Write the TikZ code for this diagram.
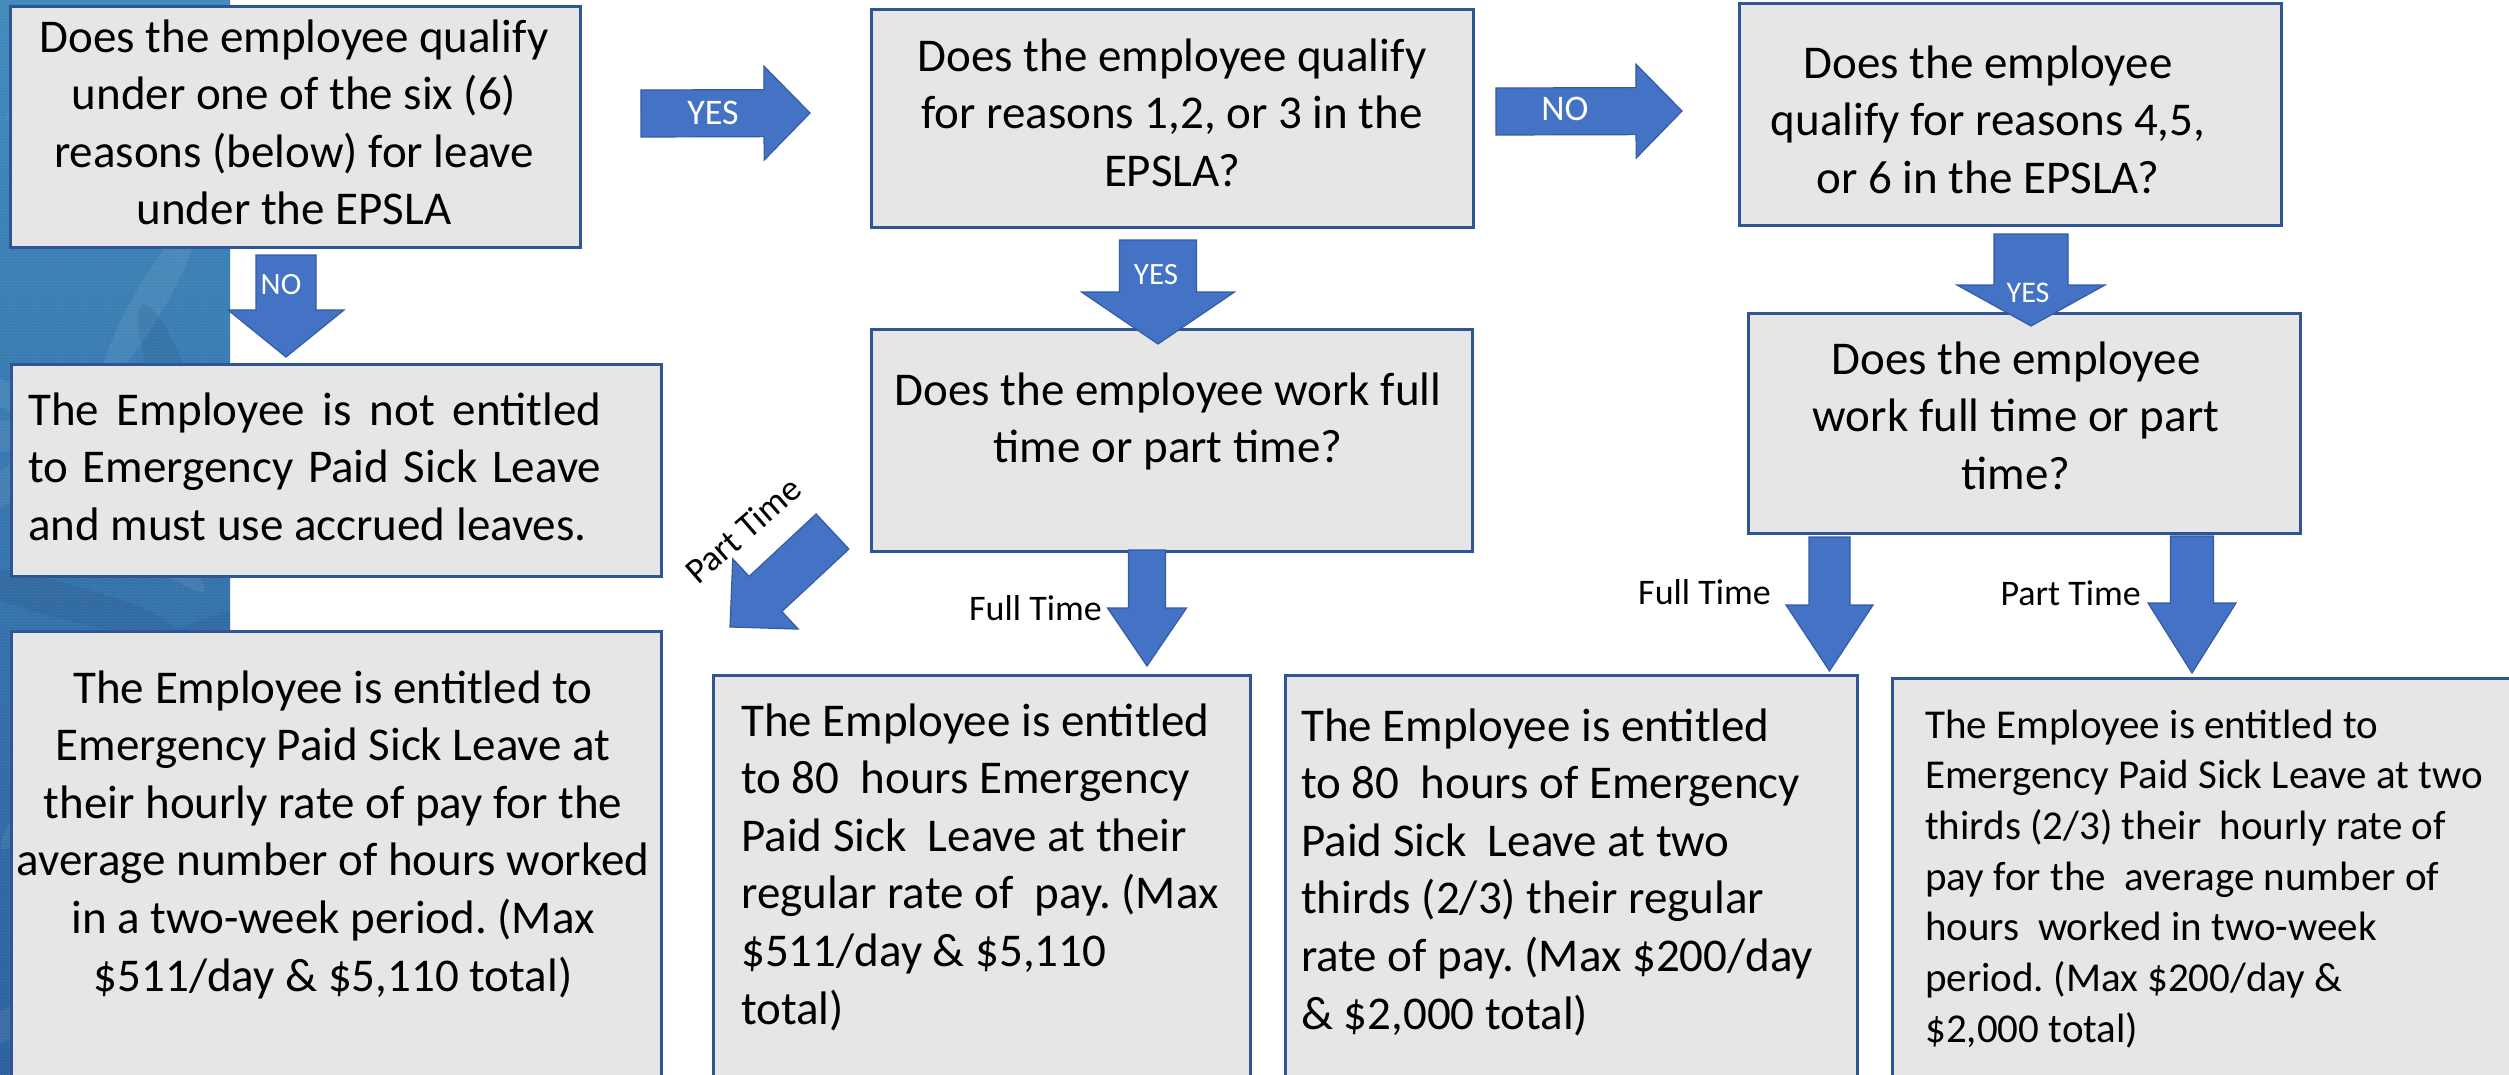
\documentclass[tikz,border=0pt]{standalone}
\usepackage{fontspec}
\setmainfont{Carlito}
\usetikzlibrary{calc,patterns}
\frenchspacing

\definecolor{boxfill}{RGB}{231,230,230}
\definecolor{boxline}{RGB}{47,85,151}
\definecolor{arrowfill}{RGB}{68,114,196}
\definecolor{arrowline}{RGB}{52,92,165}
\definecolor{texA}{RGB}{64,138,188}
\definecolor{texB}{RGB}{44,96,158}

\tikzset{
  card/.style={draw=boxline, line width=3pt, fill=boxfill, inner sep=0pt, anchor=north west},
  blk/.style={fill=arrowfill, draw=arrowline, line width=1.2pt, line join=miter},
  tag/.style={text=white, inner sep=0pt},
  side/.style={font=\fontsize{36}{44}\selectfont, inner sep=0pt},
  body/.style={inner sep=0pt, anchor=base},
  bodyleft/.style={inner sep=0pt, anchor=base west},
}

% block arrow: #1 name, #2 shaft end, #3 tip, #4 half shaft width,
% #5 half head width, #6 head length
\newcommand\flowarrow[6]{%
  \coordinate (#1-s) at (#2);
  \coordinate (#1-t) at (#3);
  \coordinate (#1-hb) at ($(#1-t)!#6!(#1-s)$);
  \draw[blk] ($(#1-s)!#4!90:(#1-t)$) -- ($(#1-hb)!#4!90:(#1-t)$)
    -- ($(#1-hb)!#5!90:(#1-t)$) -- (#1-t) -- ($(#1-hb)!#5!-90:(#1-t)$)
    -- ($(#1-hb)!#4!-90:(#1-t)$) -- ($(#1-s)!#4!-90:(#1-t)$) -- cycle;
}

\newcommand\bigtext{\fontsize{47}{57.6}\selectfont}
\newcommand\smalltext{\fontsize{41}{50.7}\selectfont}

\begin{document}
\begin{tikzpicture}[x=1pt, y=-1pt]
\useasboundingbox (0,0) rectangle (2509,1074);
\clip (0,0) rectangle (2509,1074);
\fill[white] (0,0) rectangle (2509,1074);

% textured strip on the left edge
\begin{scope}
  \clip (0,0) rectangle (230,1074);
  \fill[top color=texA, bottom color=texB] (0,0) rectangle (230,1074);
  \foreach \cx/\cy/\ang/\len in {40/430/10/120, 60/420/-25/110, 30/470/35/100,
      150/300/60/90, 120/520/-40/110, 160/820/15/120, 130/860/-30/100,
      60/780/50/90, 180/960/-10/80, 50/1000/30/110, 100/150/-20/100}
    \fill[white, opacity=.07, rotate around={\ang:(\cx,\cy)}] (\cx,\cy) ellipse [x radius=\len, y radius=16];
  \foreach \cx/\cy/\ang/\len in {90/470/70/100, 200/640/20/90, 70/900/-60/110, 170/380/-70/80, 60/600/-15/120}
    \fill[texB!70!black, opacity=.15, rotate around={\ang:(\cx,\cy)}] (\cx,\cy) ellipse [x radius=\len, y radius=18];
  \fill[pattern=dots, pattern color=white, opacity=.25] (0,0) rectangle (230,1074);
\end{scope}

% boxes
\node[card, minimum width=570pt, minimum height=241pt] (q1) at (9,5) {};
\node[card, minimum width=650pt, minimum height=212pt] (ne) at (10,363) {};
\node[card, minimum width=650pt, minimum height=500pt] (pt1) at (10,630) {};
\node[card, minimum width=602pt, minimum height=218pt] (q2) at (870,8) {};
\node[card, minimum width=601pt, minimum height=222pt] (q5) at (870,328) {};
\node[card, minimum width=542pt, minimum height=222pt] (q3) at (1738,2) {};
\node[card, minimum width=552pt, minimum height=220pt] (q4) at (1747,312) {};
\node[card, minimum width=537pt, minimum height=450pt] (ft1) at (712,674) {};
\node[card, minimum width=572pt, minimum height=450pt] (ft2) at (1284,674) {};
\node[card, minimum width=700pt, minimum height=450pt] (pt2) at (1891,677) {};

% box texts
\node[body] (q1t) at (294,52) {\parbox[t]{560pt}{\centering\bigtext
  Does the employee qualify\\ under one of the six (6)\\ reasons (below) for leave\\ under the EPSLA}};
\node[bodyleft] (net) at (28,425) {\parbox[t]{573pt}{\bigtext
  The Employee is not entitled\linebreak to Emergency Paid Sick Leave\linebreak and must use accrued leaves.}};
\node[body] (pt1t) at (333,703) {\parbox[t]{640pt}{\centering\bigtext
  The Employee is entitled to\\ Emergency Paid Sick Leave at\\ their hourly rate of pay for the\\
  average number of hours worked\\ in a two-week period. (Max\\ \$511/day \& \$5,110 total)}};
\node[body] (q2t) at (1172,71) {\parbox[t]{590pt}{\centering\bigtext
  Does the employee qualify\\ for reasons 1,2, or 3 in the\\ EPSLA?}};
\node[body] (q5t) at (1168,405) {\parbox[t]{590pt}{\centering\bigtext
  Does the employee work full\\ time or part time?}};
\node[body] (q3t) at (1988,78) {\parbox[t]{530pt}{\centering\bigtext
  Does the employee\\ qualify for reasons 4,5,\\ or 6 in the EPSLA?}};
\node[body] (q4t) at (2016,374) {\parbox[t]{540pt}{\centering\bigtext
  Does the employee\\ work full time or part\\ time?}};
\node[bodyleft] (ft1t) at (741,736) {\parbox[t]{520pt}{\raggedright\bigtext
  The Employee is entitled\\ to 80~ hours Emergency\\ Paid Sick~ Leave at their\\
  regular rate of~ pay. (Max\\ \$511/day \& \$5,110\\ total)}};
\node[bodyleft] (ft2t) at (1301,741) {\parbox[t]{550pt}{\raggedright\bigtext
  The Employee is entitled\\ to 80~ hours of Emergency\\ Paid Sick~ Leave at two\\
  thirds (2/3) their regular\\ rate of pay. (Max \$200/day\\ \& \$2,000 total)}};
\node[bodyleft] (pt2t) at (1925,738) {\parbox[t]{600pt}{\raggedright\smalltext
  The Employee is entitled to\\ Emergency Paid Sick Leave at two\\ thirds (2/3) their~ hourly rate of\\
  pay for the~ average number of\\ hours~ worked in two-week\\ period. (Max \$200/day \&\\ \$2,000 total)}};

% block arrows
\flowarrow{a1}{641,113.5}{810,113}{23.5pt}{47pt}{46pt}
\flowarrow{a2}{1496,111.5}{1682,111}{23.5pt}{47pt}{46pt}
\flowarrow{a3}{286,255}{286,357}{30pt}{58pt}{47pt}
\flowarrow{a4}{1158,240}{1158,344}{38.5pt}{76.5pt}{52pt}
\flowarrow{a5}{2031,234}{2031,326}{37pt}{74pt}{41pt}
\flowarrow{a6}{1147,550}{1147,666}{18.5pt}{39.5pt}{58pt}
\flowarrow{a7}{1829.5,537}{1829.5,671}{20.5pt}{43.5pt}{66pt}
\flowarrow{a8}{2192,536}{2192,673}{21.5pt}{44pt}{70pt}
\flowarrow{a9}{832.5,531.5}{730,627}{24pt}{48pt}{48.5pt}

% arrow labels
\node[tag, font=\fontsize{36}{44}\selectfont] (l1) at (713,113) {YES};
\node[tag, font=\fontsize{36}{44}\selectfont] (l2) at (1565,109) {NO};
\node[tag, font=\fontsize{31}{38}\selectfont] (l3) at (281,285) {NO};
\node[tag, font=\fontsize{31}{38}\selectfont] (l4) at (1156,275) {YES};
\node[tag, font=\fontsize{30}{36}\selectfont] (l5) at (2028,293) {YES};
\node[side, anchor=base east] (l6) at (1102,620) {Full Time};
\node[side, anchor=base east] (l7) at (1771,604) {Full Time};
\node[side, anchor=base east] (l8) at (2141,605) {Part Time};
\node[side, rotate=41] (l9) at (743,530) {Part Time};
\end{tikzpicture}
\end{document}
